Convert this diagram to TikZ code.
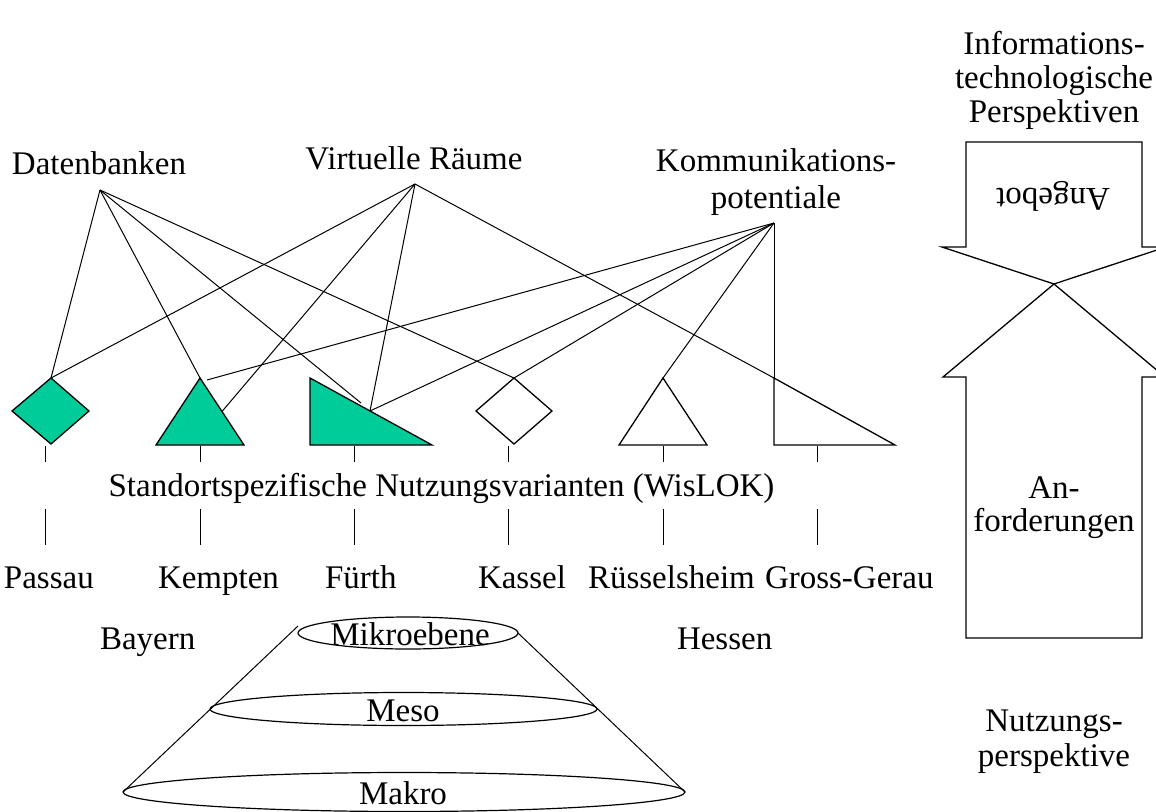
\documentclass[tikz,border=0pt]{standalone}
\usepackage{fontspec}
\setmainfont{Liberation Serif}
\usetikzlibrary{shapes.geometric}
\definecolor{shapegreen}{RGB}{0,204,153}
\begin{document}
\begin{tikzpicture}[x=1pt,y=-1pt,
  lbl/.style={font=\fontsize{33}{39}\selectfont, inner sep=0pt, outer sep=0pt},
  conn/.style={line width=1pt},
  shp/.style={line width=1.3pt, line join=miter},
  tickline/.style={line width=1pt},
  lvl/.style={draw, ellipse, line width=1.2pt, inner sep=0pt, outer sep=0pt}]
\useasboundingbox (0,0) rectangle (1156,811);
\clip (0,0) rectangle (1156,811);

% ---- top labels and hubs
\node[lbl, anchor=base] (ldb) at (99,174) {Datenbanken};
\node[lbl, anchor=base] (lvr) at (414,169) {Virtuelle Räume};
\node[lbl, anchor=north, align=center, font=\fontsize{33}{37}\selectfont] (lkp) at (776,149) {Kommunikations-\\potentiale};
\coordinate (hD) at (100,190);
\coordinate (hV) at (415,184);
\coordinate (hK) at (774,223);

% ---- shapes
% Passau diamond
\coordinate (pT) at (51,378); \coordinate (pL) at (12,411);
\coordinate (pR) at (89,411); \coordinate (pB) at (51,444);
\filldraw[shp, fill=shapegreen] (pT) -- (pR) -- (pB) -- (pL) -- cycle;
% Kempten triangle
\coordinate (kT) at (200,378); \coordinate (kL) at (156,445); \coordinate (kR) at (244,445);
\coordinate (kS) at (222,411.5); \coordinate (kK) at (207,380);
\filldraw[shp, fill=shapegreen] (kT) -- (kR) -- (kL) -- cycle;
% Fuerth right triangle
\coordinate (fT) at (310,378); \coordinate (fL) at (310,445); \coordinate (fR) at (432,445);
\coordinate (fH) at (370,411); \coordinate (fD) at (361,403);
\filldraw[shp, fill=shapegreen] (fT) -- (fR) -- (fL) -- cycle;
% Kassel diamond
\coordinate (sT) at (514,378); \coordinate (sL) at (476,411);
\coordinate (sR) at (552,411); \coordinate (sB) at (514,444);
\draw[shp] (sT) -- (sR) -- (sB) -- (sL) -- cycle;
% Ruesselsheim triangle
\coordinate (rT) at (663,378); \coordinate (rL) at (619,445); \coordinate (rR) at (707,445);
\draw[shp] (rT) -- (rR) -- (rL) -- cycle;
% Gross-Gerau right triangle
\coordinate (gT) at (774,378); \coordinate (gL) at (774,445); \coordinate (gR) at (895,445);
\draw[shp] (gT) -- (gR) -- (gL) -- cycle;

% ---- connectors
\draw[conn] (hD) -- (pT);
\draw[conn] (hD) -- (kT);
\draw[conn] (hD) -- (fD);
\draw[conn] (hD) -- (sT);
\draw[conn] (hV) -- (pT);
\draw[conn] (hV) -- (kS);
\draw[conn] (hV) -- (fH);
\draw[conn] (hV) -- (gT);
\draw[conn] (hK) -- (kK);
\draw[conn] (hK) -- (fH);
\draw[conn] (hK) -- (sT);
\draw[conn] (hK) -- (rT);
\draw[conn] (hK) -- (gT);

% ---- ticks
\foreach \x/\n in {45.7/a,200/b,354/c,508/d,663/e,817/f}{
  \coordinate (ua\n) at (\x,446); \coordinate (ub\n) at (\x,462);
  \coordinate (la\n) at (\x,509); \coordinate (lb\n) at (\x,545);
  \draw[tickline] (ua\n) -- (ub\n);
  \draw[tickline] (la\n) -- (lb\n);
}

% ---- middle text
\node[lbl, anchor=base] (lsn) at (441.5,496) {Standortspezifische Nutzungsvarianten (WisLOK)};
\node[lbl, anchor=base west] (cpa) at (4,588) {Passau};
\node[lbl, anchor=base west] (cke) at (158,588) {Kempten};
\node[lbl, anchor=base west] (cfu) at (325,588) {Fürth};
\node[lbl, anchor=base west] (cka) at (478,588) {Kassel};
\node[lbl, anchor=base west] (cru) at (588,588) {Rüsselsheim};
\node[lbl, anchor=base west] (cgg) at (765,588) {Gross-Gerau};
\node[lbl, anchor=base west] (lby) at (100,649) {Bayern};
\node[lbl, anchor=base west] (lhe) at (677,649) {Hessen};

% ---- cone
\node[lvl, minimum width=220pt, minimum height=32pt] (mikro) at (408,633) {};
\node[lvl, minimum width=387pt, minimum height=33pt] (meso) at (403.5,709) {};
\node[lvl, minimum width=562pt, minimum height=39pt] (makro) at (404,792) {};
\draw[conn] ([yshift=7pt]mikro.west) -- (makro.west);
\draw[conn] (mikro.east) -- (makro.east);
\node[lbl, anchor=base] (tmi) at (410,645) {Mikroebene};
\node[lbl, anchor=base] (tme) at (403,721) {Meso};
\node[lbl, anchor=base] (tma) at (403,804) {Makro};

% ---- right side arrows
\node[lbl, anchor=north, align=center, font=\fontsize{33}{34}\selectfont] (linf) at (1054,31.5) {Informations-\\technologische\\Perspektiven};
\draw[shp] (966,142) -- (1142,142) -- (1142,247) -- (1166,247) -- (1054,284) -- (942,247) -- (966,247) -- cycle;
\draw[shp] (1054,284) -- (1165,377) -- (1142,377) -- (1142,638) -- (966,638) -- (966,377) -- (943,377) -- cycle;
\node[lbl, rotate=180] (lang) at (1053,196) {Angebot};
\node[lbl, anchor=north, align=center, font=\fontsize{33}{33}\selectfont] (lanf) at (1054,477) {An-\\forderungen};
\node[lbl, anchor=north, align=center, font=\fontsize{33}{35}\selectfont] (lnut) at (1054,710) {Nutzungs-\\perspektive};
\end{tikzpicture}
\end{document}
